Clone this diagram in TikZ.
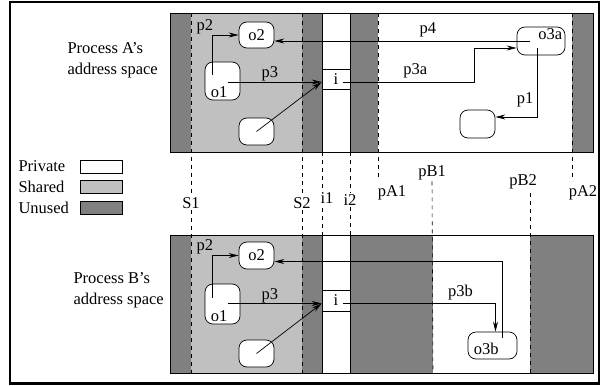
\documentclass[tikz,border=0pt]{standalone}
\usepackage{fontspec}
\setmainfont{Liberation Serif}
\usetikzlibrary{arrows.meta, positioning, calc}
\definecolor{unusedgray}{RGB}{128,128,128}
\definecolor{sharedgray}{RGB}{192,192,192}

\begin{document}
\begin{tikzpicture}[x=1pt, y=-1pt,
    font=\fontsize{16.5}{21}\selectfont,
    obj/.style={draw, fill=white, rounded corners=8pt, minimum width=35pt, minimum height=27pt, inner sep=0pt, line width=0.7pt},
    ibox/.style={draw, minimum width=28pt, minimum height=20pt, inner sep=0pt, line width=0.7pt},
    legbox/.style={draw, minimum width=42pt, minimum height=13pt, inner sep=0pt, line width=0.7pt},
    lbl/.style={inner sep=1pt},
    marker/.style={dash pattern=on 4pt off 4pt, line width=0.6pt},
    arr/.style={-{Stealth[length=10pt,width=5pt]}, line width=0.7pt},
    >=Stealth]
  \useasboundingbox (0,0) rectangle (601,385);
  \draw[line width=2.4pt] (10,2.2) rectangle (599,383.5);

  % process A
  \fill[unusedgray] (170,13) rectangle (191,152);
  \fill[sharedgray] (191,13) rectangle (302,152);
  \fill[unusedgray] (302,13) rectangle (322,152);
  \fill[unusedgray] (350,13) rectangle (378,152);
  \fill[unusedgray] (572,13) rectangle (593,152);
  \draw[line width=0.7pt] (170,13) rectangle (593,152);
  \draw[line width=0.7pt] (322,13) -- (322,152) (350,13) -- (350,152);

  % process B
  \fill[unusedgray] (170,235) rectangle (191,373);
  \fill[sharedgray] (191,235) rectangle (302,373);
  \fill[unusedgray] (302,235) rectangle (322,373);
  \fill[unusedgray] (350,235) rectangle (433,373);
  \fill[unusedgray] (530,235) rectangle (593,373);
  \draw[line width=0.7pt] (170,235) rectangle (593,373);
  \draw[line width=0.7pt] (322,235) -- (322,373) (350,235) -- (350,373);

  % boundaries
  \node[lbl] (S1) at (191,203) {S1};
  \node[lbl] (S2) at (302,203) {S2};
  \node[lbl] (i1) at (327,198) {i1};
  \node[lbl] (i2) at (350,200) {i2};
  \node[lbl] (pA1) at (392,193) {pA1};
  \node[lbl] (pA2) at (583,193) {pA2};
  \node[lbl] (pB1) at (432,173) {pB1};
  \node[lbl] (pB2) at (523,182) {pB2};
  \draw[marker] (191,13) -- (S1.north) (S1.south) -- (191,373);
  \draw[marker] (302,13) -- (S2.north) (S2.south) -- (302,373);
  \draw[marker] (322,152) -- (322,190) (322,208) -- (322,235);
  \draw[marker] (350,152) -- (i2.north) (i2.south) -- (350,235);
  \draw[marker] (378,13) -- (378,180);
  \draw[marker] (572,13) -- (572,181);
  \draw[marker] (pB1.south) -- (433,373);
  \draw[marker] (530,193) -- (530,373);

  % legend
  \node[anchor=west] (privtxt) at (15,166.5) {Private};
  \node[anchor=west] (sharedtxt) at (15,186.5) {Shared};
  \node[anchor=west] (unusedtxt) at (15,207.5) {Unused};
  \node[legbox, fill=white] (privbox) at (101,166.5) {};
  \node[legbox, fill=sharedgray] (sharedbox) at (101,186.5) {};
  \node[legbox, fill=unusedgray] (unusedbox) at (101,207.5) {};

  \node[anchor=west, align=left] (procA) at (64,60) {Process A’s\\address space};
  \node[anchor=west, align=left] (procB) at (70,290) {Process B’s\\address space};

  % objects of A
  \node[obj, minimum height=26pt] (o2a) at (256.5,35) {o2};
  \node[obj, minimum height=38pt, label={[anchor=south west, xshift=5pt, yshift=1pt, inner sep=1pt]south west:o1}] (o1a) at (222.5,81) {};
  \node[obj] (eA) at (256.5,131.5) {};
  \node[obj, minimum width=48pt, minimum height=28pt, label={[anchor=north east, xshift=-2pt, yshift=-1pt, inner sep=1pt]north east:o3a}] (o3a) at (541,41) {};
  \node[obj, minimum height=28pt] (eC) at (477.5,124) {};
  \node[ibox] (iA) at (336,79) {i};
  \coordinate (iAin) at ([yshift=-3pt]iA.west);
  \coordinate (iAout) at ([xshift=-7pt,yshift=-3pt]iA.east);
  \coordinate (p4s) at ([xshift=-11pt]o3a.center);

  \draw[arr] ([xshift=-10pt,yshift=6pt]o1a.center) |- node[pos=0.5, anchor=south east, inner sep=1pt, xshift=2pt] {p2} (o2a.west);
  \draw[arr] ($(o1a.center |- iAin)+(5,0)$) -- node[above, pos=0.45, inner sep=0.5pt] {p3} (iAin);
  \draw[arr] (eA.center) -- (iAin);
  \draw[arr] (p4s) -- node[above, pos=0.4] {p4} (p4s -| o2a.east);
  \draw[arr] (iAout) -- node[above, pos=0.55] {p3a} ++(131,0) |- ([yshift=-7pt]o3a.west);
  \draw[arr] ([xshift=-4pt,yshift=-7pt]o3a.center) |- node[pos=0.375, left] {p1} ([yshift=7pt]eC.east);

  % objects of B
  \node[obj] (o2b) at (256.5,255.5) {o2};
  \node[obj, minimum height=40pt, label={[anchor=south west, xshift=5pt, yshift=1pt, inner sep=1pt]south west:o1}] (o1b) at (222.5,304) {};
  \node[obj] (eB) at (256.5,353.5) {};
  \node[obj, minimum width=49pt, label={[anchor=south west, xshift=5pt, yshift=3pt, inner sep=1pt]south west:o3b}] (o3b) at (492.5,345.5) {};
  \node[ibox, minimum height=21pt] (iB) at (336,300.5) {i};
  \coordinate (iBin) at ([yshift=-3pt]iB.west);
  \coordinate (iBout) at ([xshift=-7pt,yshift=-3pt]iB.east);
  \coordinate (p4sB) at ([xshift=10pt,yshift=8pt]o3b.center);

  \draw[arr] ([xshift=-10pt,yshift=6pt]o1b.center) |- node[pos=0.5, anchor=south east, inner sep=1pt, xshift=2pt] {p2} (o2b.west);
  \draw[arr] ($(o1b.center |- iBin)+(5,0)$) -- node[above, pos=0.45, inner sep=0.5pt] {p3} (iBin);
  \draw[arr] (eB.center) -- (iBin);
  \draw[arr] (p4sB) |- ([yshift=-6pt]o2b.east);
  \draw[arr] (iBout) -| node[pos=0.385, above] {p3b} ([xshift=3pt]o3b.north);
\end{tikzpicture}
\end{document}
